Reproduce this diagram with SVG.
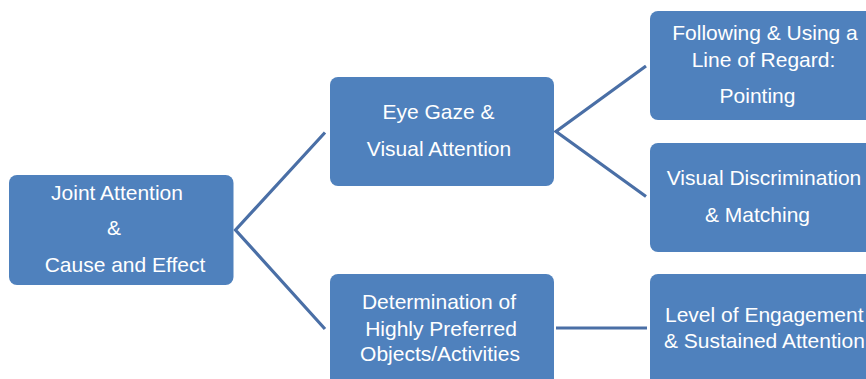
<svg xmlns="http://www.w3.org/2000/svg" width="866" height="379" viewBox="0 0 866 379">
  <style>
    .box { fill: #4f81bd; }
    .lbl { font-family: "Liberation Sans", Arial, sans-serif; font-size: 21px; fill: #ffffff; text-anchor: middle; }
    .lbl.start { text-anchor: start; }
    .conn { fill: none; stroke: #4a6fa6; stroke-width: 3.2; stroke-linejoin: miter; }
  </style>
  <rect width="866" height="379" fill="#ffffff"/>
  <g id="connectors">
    <polyline class="conn" points="325,132.5 235.5,230 325,329"/>
    <polyline class="conn" points="646,66 556,131.5 646,196.5"/>
    <line class="conn" x1="556" y1="328" x2="647" y2="328"/>
  </g>
  <g id="node-joint-attention">
    <rect class="box" x="9" y="175" width="224.5" height="110" rx="8"/>
    <text class="lbl" x="117" y="200">Joint Attention</text>
    <text class="lbl" x="114" y="235">&amp;</text>
    <text class="lbl" x="125" y="272">Cause and Effect</text>
  </g>
  <g id="node-eye-gaze">
    <rect class="box" x="330" y="77" width="224" height="109" rx="8"/>
    <text class="lbl" x="438.5" y="119">Eye Gaze &amp;</text>
    <text class="lbl" x="439" y="156">Visual Attention</text>
  </g>
  <g id="node-following">
    <rect class="box" x="650" y="11" width="226" height="109" rx="8"/>
    <text class="lbl" x="765" y="40">Following &amp; Using a</text>
    <text class="lbl" x="763.5" y="67">Line of Regard:</text>
    <text class="lbl" x="757.5" y="103">Pointing</text>
  </g>
  <g id="node-visual-discrimination">
    <rect class="box" x="650" y="143" width="226" height="109" rx="8"/>
    <text class="lbl" x="764" y="185">Visual Discrimination</text>
    <text class="lbl" x="757.5" y="222">&amp; Matching</text>
  </g>
  <g id="node-determination">
    <rect class="box" x="330" y="274" width="224" height="112" rx="8"/>
    <text class="lbl" x="439" y="309">Determination of</text>
    <text class="lbl" x="441" y="336">Highly Preferred</text>
    <text class="lbl" x="440" y="361">Objects/Activities</text>
  </g>
  <g id="node-level-engagement">
    <rect class="box" x="650" y="274" width="226" height="112" rx="8"/>
    <text class="lbl start" x="665" y="322">Level of Engagement</text>
    <text class="lbl start" x="664" y="348">&amp; Sustained Attention</text>
  </g>
</svg>
